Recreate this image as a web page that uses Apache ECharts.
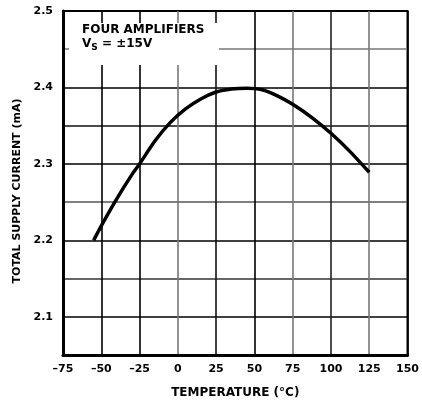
<!DOCTYPE html>
<html><head><meta charset="utf-8">
<script src="https://cdn.jsdelivr.net/npm/echarts@6/dist/echarts.min.js"></script>
<style>html,body{margin:0;padding:0;background:#fff}#c{width:422px;height:407px}</style>
</head><body><div id="c"></div>
<script>
const temps = [-55, -50, -40, -30, -25, -15, -5, 5, 15, 25, 35, 45, 55, 65, 75, 88, 100, 112, 125];
const currents = [2.200, 2.219, 2.254, 2.286, 2.300, 2.330, 2.354, 2.372, 2.385, 2.394, 2.398, 2.399, 2.397, 2.389, 2.378, 2.360, 2.340, 2.317, 2.289];
const xTicks = [-75, -50, -25, 0, 25, 50, 75, 100, 125, 150];
const yLabels = ['2.1', '2.2', '2.3', '2.4', '2.5'];
const xTitle = 'TEMPERATURE (°C)';
const yTitle = 'TOTAL SUPPLY CURRENT (mA)';
const note1 = 'FOUR AMPLIFIERS';

const font = 'DejaVu Sans, Arial, sans-serif';
const chart = echarts.init(document.getElementById('c'), null, {renderer: 'canvas'});
chart.setOption({
  animation: false,
  backgroundColor: '#fff',
  grid: {left: 63, right: 10, top: 11, bottom: 52, show: true, borderColor: '#000', borderWidth: 2},
  xAxis: {
    type: 'value', min: xTicks[0], max: xTicks[xTicks.length - 1], interval: 25,
    axisLine: {show: true, onZero: false, lineStyle: {color: '#000', width: 3}},
    axisTick: {show: false},
    axisLabel: {color: '#000', fontFamily: font, fontSize: 11, fontWeight: 'bold', margin: 9,
      formatter: v => (v < 0 ? '\u2013' + Math.abs(v) : String(v))},
    splitLine: {show: true, lineStyle: {width: 1.6,
      color: ['#000', '#000', '#000', '#777', '#111', '#000', '#777', '#222', '#777', '#000']}},
    name: xTitle, nameLocation: 'middle', nameGap: 32,
    nameTextStyle: {color: '#000', fontFamily: font, fontSize: 12, fontWeight: 'bold'}
  },
  yAxis: {
    type: 'value', min: 2.05, max: 2.5, interval: 0.05,
    axisLine: {show: true, onZero: false, lineStyle: {color: '#000', width: 3}},
    axisTick: {show: false},
    axisLabel: {color: '#000', fontFamily: font, fontSize: 11, fontWeight: 'bold', margin: 10,
      formatter: v => { const r = Math.round(v * 100); return r % 10 === 0 ? yLabels[(r - 210) / 10] : ''; }},
    splitLine: {show: true, lineStyle: {width: 1.6,
      color: ['#000', '#000', '#333', '#000', '#555', '#000', '#111', '#000', '#777', '#000']}},
    name: yTitle, nameLocation: 'middle', nameGap: 39, nameRotate: 90,
    nameTextStyle: {color: '#000', fontFamily: font, fontSize: 11, fontWeight: 'bold', padding: [0, 16, 0, 0]}
  },
  graphic: [
    {type: 'rect', left: 69, top: 23, shape: {width: 150, height: 42}, style: {fill: '#fff'}, z: 10},
    {type: 'text', left: 82, top: 24, z: 11,
      style: {text: note1, fill: '#000', font: 'bold 12px ' + font}},
    {type: 'text', left: 82, top: 38, z: 11,
      style: {text: '{a|V}{s|S}{a| = \u00b115V}', fill: '#000',
        rich: {a: {fontFamily: font, fontSize: 12, fontWeight: 'bold', fill: '#000'},
               s: {fontFamily: font, fontSize: 9, fontWeight: 'bold', fill: '#000', padding: [7, 0, 0, 0]}}}}
  ],
  series: [{
    type: 'line', data: temps.map((t, i) => [t, currents[i]]), smooth: 0.25, showSymbol: false,
    lineStyle: {color: '#000', width: 3.5}, z: 5
  }]
});
</script></body></html>
